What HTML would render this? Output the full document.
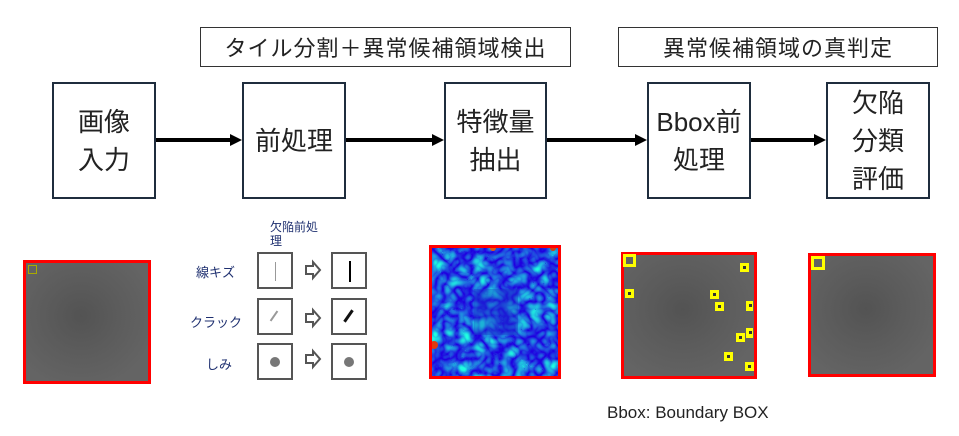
<!DOCTYPE html>
<html><head><meta charset="utf-8"><style>
body{margin:0;width:959px;height:436px;background:#fff;position:relative;overflow:hidden;font-family:"Liberation Sans","Noto Sans CJK JP",sans-serif}
.a{position:absolute}
.box{position:absolute;border:2px solid #1f2d3d;box-sizing:border-box;display:flex;align-items:center;justify-content:center;text-align:center;font-size:26px;line-height:38px;color:#222}
.lab{position:absolute;border:1px solid #333;box-sizing:border-box;font-size:22px;display:flex;align-items:center;justify-content:center;color:#222;letter-spacing:1px}
.sm{position:absolute;width:36px;height:37px;border:2px solid #555;box-sizing:border-box}
.t{position:absolute;font-size:12px;color:#1f3070}
.img{position:absolute;border:3px solid #f00;box-sizing:border-box;background:radial-gradient(ellipse at 45% 45%,#535353 0%,#5c5c5c 40%,#646464 80%)}
.yb{position:absolute;background:#ff0;width:9px;height:9px}
.yb:after{content:"";position:absolute;left:3px;top:3px;width:3px;height:3px;background:#333}
</style></head><body>
<div class="lab" style="left:200px;top:27px;width:371px;height:40px">タイル分割＋異常候補領域検出</div>
<div class="lab" style="left:618px;top:27px;width:320px;height:40px">異常候補領域の真判定</div>
<div class="box" style="left:52px;top:82px;width:104px;height:117px">画像<br>入力</div>
<div class="box" style="left:242px;top:82px;width:104px;height:117px">前処理</div>
<div class="box" style="left:444px;top:82px;width:103px;height:117px">特徴量<br>抽出</div>
<div class="box" style="left:647px;top:82px;width:104px;height:117px">Bbox前<br>処理</div>
<div class="box" style="left:826px;top:82px;width:104px;height:117px">欠陥<br>分類<br>評価</div>
<svg class="a" style="left:0;top:0" width="959" height="436">
<g stroke="#000" stroke-width="4"><line x1="156" y1="140" x2="232" y2="140"/><line x1="346" y1="140" x2="434" y2="140"/><line x1="547" y1="140" x2="637" y2="140"/><line x1="751" y1="140" x2="816" y2="140"/></g>
<g fill="#000"><polygon points="230,134 242,140 230,146"/><polygon points="432,134 444,140 432,146"/><polygon points="635,134 647,140 635,146"/><polygon points="814,134 826,140 814,146"/></g>
<g fill="#fff" stroke="#555" stroke-width="2">
<polygon points="306,266 313,266 313,262 320,270 313,278 313,274 306,274"/>
<polygon points="306,314 313,314 313,310 320,318 313,326 313,322 306,322"/>
<polygon points="306,355 313,355 313,351 320,359 313,367 313,363 306,363"/></g>
</svg>
<div class="t" style="left:270px;top:220px;line-height:14px">欠陥前処<br>理</div>
<div class="t" style="left:196px;top:262px;font-size:13px">線キズ</div>
<div class="t" style="left:190px;top:312px;font-size:13px">クラック</div>
<div class="t" style="left:206px;top:354px;font-size:13px">しみ</div>
<div class="sm" style="left:257px;top:252px"><div class="a" style="left:16px;top:8px;width:1px;height:19px;background:#999"></div></div>
<div class="sm" style="left:331px;top:252px"><div class="a" style="left:16px;top:7px;width:2px;height:21px;background:#000"></div></div>
<div class="sm" style="left:257px;top:298px"><div class="a" style="left:14px;top:10px;width:2px;height:12px;background:#999;transform:rotate(35deg)"></div></div>
<div class="sm" style="left:331px;top:298px"><div class="a" style="left:14px;top:9px;width:3px;height:14px;background:#111;transform:rotate(35deg)"></div></div>
<div class="sm" style="left:257px;top:343px"><div class="a" style="left:11px;top:12px;width:10px;height:10px;border-radius:50%;background:#777"></div></div>
<div class="sm" style="left:331px;top:343px"><div class="a" style="left:11px;top:12px;width:10px;height:10px;border-radius:50%;background:#777"></div></div>
<div class="img" style="left:23px;top:260px;width:128px;height:124px"><div class="a" style="left:2px;top:2px;width:7px;height:7px;border:1px solid #aa0"></div></div>
<svg class="a" style="left:429px;top:245px" width="132" height="134">
<defs><filter id="f" color-interpolation-filters="sRGB"><feTurbulence baseFrequency="0.07" numOctaves="2" seed="3"/><feColorMatrix type="matrix" values="0 0 0 0 0.12  1.5 0 0 0 -0.05  0 0 0 0 0.88  0 0 0 0 1"/></filter></defs>
<rect width="132" height="134" filter="url(#f)"/>
<rect x="45" y="44" width="44" height="46" fill="#1a3fc8" opacity="0.4"/>
<circle cx="5" cy="100" r="4" fill="#e03a10"/><circle cx="64" cy="3" r="3" fill="#e05a10"/><circle cx="124" cy="3" r="3" fill="#d04010"/>
<rect x="1.5" y="1.5" width="129" height="131" fill="none" stroke="#f00" stroke-width="3"/>
</svg>
<div class="img" style="left:621px;top:252px;width:136px;height:127px"></div>
<div class="a" style="left:623px;top:254px;width:13px;height:13px;border:3px solid #ff0;box-sizing:border-box"></div>
<div class="yb" style="left:740px;top:263px"></div><div class="yb" style="left:625px;top:289px"></div>
<div class="yb" style="left:710px;top:290px"></div><div class="yb" style="left:715px;top:302px"></div>
<div class="yb" style="left:746px;top:301px;height:10px;width:7px"></div><div class="yb" style="left:746px;top:328px;height:10px;width:7px"></div>
<div class="yb" style="left:736px;top:333px"></div><div class="yb" style="left:724px;top:352px"></div><div class="yb" style="left:745px;top:362px"></div>
<div class="img" style="left:808px;top:253px;width:128px;height:124px"></div>
<div class="a" style="left:811px;top:256px;width:14px;height:14px;border:3px solid #ff0;box-sizing:border-box"></div>
<div class="a" style="left:607px;top:403px;font-size:17px;color:#222">Bbox: Boundary BOX</div>
</body></html>
